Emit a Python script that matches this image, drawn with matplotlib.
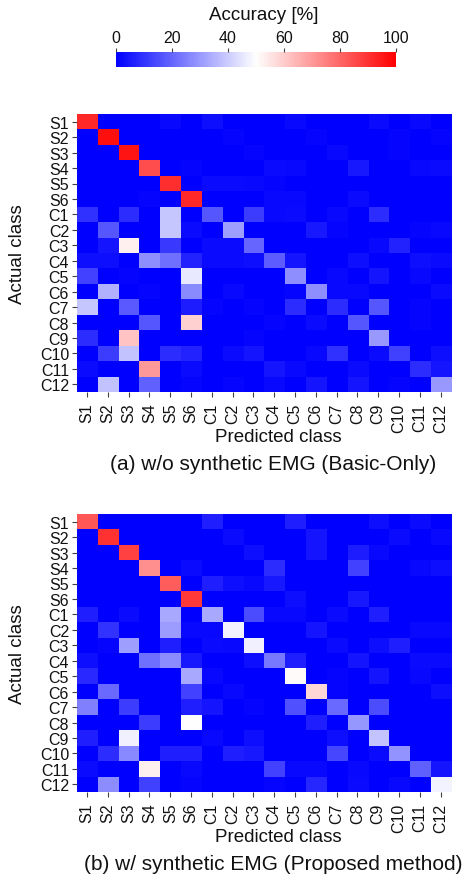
import numpy as np
import matplotlib
matplotlib.use("Agg")
import matplotlib.pyplot as plt

plt.rcParams['font.family'] = ['Liberation Sans', 'DejaVu Sans']

classes = ["S1", "S2", "S3", "S4", "S5", "S6", "C1", "C2", "C3",
           "C4", "C5", "C6", "C7", "C8", "C9", "C10", "C11", "C12"]

# (a) w/o synthetic EMG, rows = actual, cols = predicted, values in %
acc_basic = [
    [92, 0, 0, 0, 1.6, 0, 3, 0, 0, 0, 1.6, 0, 0, 0, 2, 0, 1.6, 0],
    [0, 97, 0, 0, 0, 0, 0, 1, 0, 0, 0, 1, 0, 0, 0, 1, 0, 1],
    [0, 0, 96, 0, 0, 0, 0, 0, 1, 0, 0, 0, 1.6, 0, 0, 1, 0, 0],
    [0, 0, 0, 85, 0, 1, 0, 0, 0, 2, 1.6, 0, 0, 5, 0, 0, 1.6, 2],
    [0, 0, 0, 0, 91, 0, 2, 2, 1.6, 1, 0, 0, 0, 0, 0, 0, 0, 0],
    [0, 0, 0, 1, 0, 92, 0, 0, 0, 1.6, 1.6, 0, 0, 2, 0, 0, 0, 0],
    [9.4, 0, 8.6, 0, 39, 0, 17, 0, 12, 1.6, 2, 0, 1.6, 0, 8.6, 0, 0, 0],
    [0, 17, 0, 0, 39, 2, 0, 31, 0, 0, 0, 5, 1, 0, 0, 0, 1, 1.6],
    [0, 4, 53, 0, 11, 0, 2, 2, 20, 0, 0, 0, 0, 0, 1.6, 7, 0, 0],
    [3, 3, 0, 28, 22, 7, 2, 2, 3, 18, 4, 0, 0, 3, 0, 0, 3, 2],
    [13, 0, 1, 0, 0, 45.5, 0, 0, 0, 0, 28, 0, 1.6, 0, 4, 0, 1.6, 0],
    [0, 34.5, 0, 1, 0, 27, 0, 1.6, 0, 0, 1, 28, 1.6, 1.6, 0, 0, 0, 2],
    [39, 0, 17.6, 0, 0, 5.5, 1, 0, 1, 0, 8.6, 0, 8.6, 0, 17, 0, 1, 0],
    [0, 0, 0, 17, 0, 59, 0, 0, 0, 1, 0, 2, 0, 17, 0, 0, 1, 0],
    [8.6, 0, 61.6, 0, 0, 0, 0, 0, 1, 0, 0, 0, 0, 0, 30, 0, 0, 0],
    [0, 12, 38, 0, 8.6, 7, 0, 2, 4, 0, 0, 1.6, 9.4, 0, 2, 12.5, 0, 3],
    [2, 0, 0, 70, 0, 2, 0, 0, 0, 4, 1.6, 0, 0, 2, 0, 0, 8.6, 4],
    [0, 38, 0, 19, 0, 1, 0, 1, 0, 1.6, 0, 4, 0, 4, 0, 1, 0, 30],
]

# (b) w/ synthetic EMG (proposed method)
acc_proposed = [
    [83, 0, 0, 0, 0, 0, 6, 0, 0, 0, 6, 0, 0, 0, 3, 0, 2, 0],
    [0, 90, 0, 0, 0, 0, 0, 2, 0, 0, 0, 4, 0, 0, 0, 2, 0, 1.6],
    [0, 0, 87, 0, 0, 0, 0, 0, 3, 0, 0, 4, 0, 5.5, 1.6, 0, 0, 0],
    [0, 0, 0, 72, 0, 2, 0, 0, 0, 8.6, 0, 0, 0, 13, 0, 0, 1.6, 3],
    [0, 0, 0, 0, 82, 0, 6, 3, 1.6, 5, 0, 0, 0, 0, 0, 0, 0, 0],
    [0, 0, 0, 0, 0, 89, 0, 0, 0, 0, 3, 0, 0, 5, 0, 0, 0, 0],
    [6, 0, 2, 0, 33, 0, 33, 0, 15, 1.6, 1.6, 0, 2, 0, 6, 0, 0, 0],
    [0, 10, 0, 0, 30.6, 1.6, 1.6, 48, 0, 0, 0, 4, 0, 0, 0, 0, 1.6, 1.6],
    [0, 1, 31, 0, 6, 0, 2, 1.6, 47, 0, 0, 0, 2, 0, 3, 6, 0, 0],
    [3, 0, 0, 22, 27.5, 5, 0, 0, 3, 23.5, 6, 0, 0, 4, 0, 0, 2, 2],
    [8, 0, 0, 0, 0, 33, 1.6, 0, 0, 0, 51, 0, 1, 0, 4, 0, 1.6, 0],
    [0, 21, 0, 0, 0, 13, 0, 1.6, 0, 0, 0, 58, 1, 0, 0, 0, 0, 3],
    [25, 0, 12, 0, 0, 6, 4, 0, 1, 0, 16, 0, 21, 0, 15, 0, 0, 0],
    [0, 0, 0, 12, 0, 50, 0, 0, 0, 0, 0, 6, 0, 29.4, 0, 0, 0, 0],
    [6, 0, 47, 0, 0, 0, 1.6, 0, 3, 0, 0, 0, 3, 0, 38.4, 0, 0, 0],
    [0, 8.6, 26.7, 0, 6, 6, 0, 6, 5, 0, 0, 0, 13.7, 0, 2, 29, 0, 0],
    [2, 0, 0, 53, 0, 1.6, 0, 0, 0, 13, 1.6, 1.6, 0, 1.6, 0, 0, 18.8, 4],
    [0, 27.5, 0, 12.5, 0, 1, 0, 0, 0, 1, 0, 7.8, 0, 2, 0, 1.6, 0, 47.8],
]

titles = ["(a) w/o synthetic EMG (Basic-Only)",
          "(b) w/ synthetic EMG (Proposed method)"]

W, H = 470, 879
fig = plt.figure(figsize=(W / 100, H / 100), dpi=100)


def fx(px):
    return px / W


def fy(px):
    return 1 - px / H


def draw_cm(ax, data, title, title_y):
    im = ax.imshow(np.array(data), cmap="bwr", vmin=0, vmax=100,
                   aspect="auto", interpolation="nearest")
    n = len(classes)
    ax.set_xticks(range(n))
    ax.set_yticks(range(n))
    ax.set_xticklabels(classes, rotation=90, fontsize=11.5)
    ax.set_yticklabels(classes, fontsize=11.5)
    ax.tick_params(length=3.5, width=0.8, color="#444444", pad=2,
                   labelcolor="#111111")
    ax.tick_params(axis="x", pad=4)
    for s in ax.spines.values():
        s.set_visible(False)
    ax.set_xlabel("Predicted class", fontsize=13.5, color="#111111")
    ax.xaxis.label.set_va("center")
    ax.xaxis.set_label_coords((278 - 76.7) / 374.3, -0.16)
    ax.set_ylabel("Actual class", fontsize=13.5, color="#111111")
    ax.yaxis.label.set_va("center")
    ax.yaxis.set_label_coords((17 - 76.7) / 374.3, 0.5)
    fig.text(fx(273), fy(title_y), title, fontsize=15, ha="center",
             va="center", color="#111111")
    return im


ax1 = fig.add_axes([fx(76.7), fy(393), fx(374.3), 278 / H])
im = draw_cm(ax1, acc_basic, titles[0], 465)

ax2 = fig.add_axes([fx(76.7), fy(793), fx(374.3), 278 / H])
draw_cm(ax2, acc_proposed, titles[1], 865)

cax = fig.add_axes([fx(116), fy(68), fx(280), 15 / H])
cb = fig.colorbar(im, cax=cax, orientation="horizontal")
cb.outline.set_visible(False)
cb.set_ticks([0, 20, 40, 60, 80, 100])
cax.xaxis.set_ticks_position("top")
cax.xaxis.set_label_position("top")
cax.tick_params(labelsize=11.5, length=3, width=0.8, color="#444444", pad=2,
                labelcolor="#111111")
cb.set_label("Accuracy [%]", fontsize=13.5, color="#111111")
cax.xaxis.label.set_va("center")
cax.xaxis.set_label_coords((264 - 116) / 280, (68 - 16) / 15)

fig.savefig("out.png", dpi=100)
